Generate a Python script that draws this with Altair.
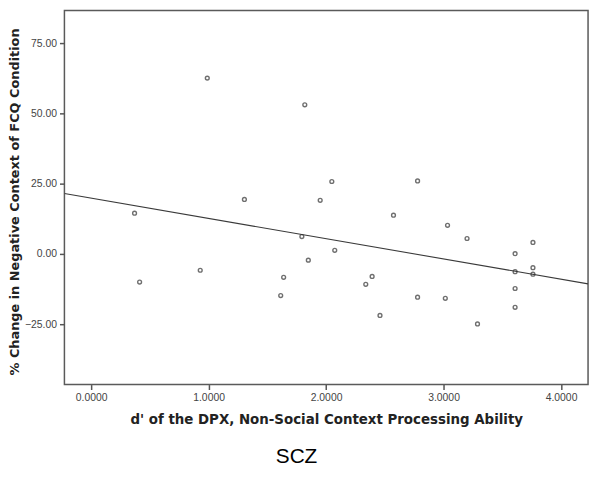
import altair as alt
import pandas as pd

dprime = [0.989, 1.819, 1.305, 1.950, 0.370, 0.413, 0.929, 1.794, 1.849, 1.639,
          1.614, 2.049, 2.779, 2.574, 3.034, 3.200, 3.761, 3.609, 2.074, 3.609,
          3.761, 3.761, 2.392, 2.338, 3.609, 2.779, 3.015, 3.609, 2.459, 3.289]
pct_change = [62.6, 53.1, 19.4, 19.1, 14.5, -10.0, -5.8, 6.2, -2.2, -8.3,
              -14.8, 25.8, 26.0, 13.8, 10.2, 5.5, 4.1, 0.1, 1.3, -6.3,
              -4.9, -7.2, -8.0, -10.8, -12.3, -15.4, -15.8, -19.0, -21.9, -24.9]

x_ticks = [0, 1, 2, 3, 4]
y_ticks = [-25, 0, 25, 50, 75]
x_domain = [-0.227, 4.23]
y_domain = [-46.5, 86.7]

df = pd.DataFrame({"x": dprime, "y": pct_change})

x_enc = alt.X("x:Q", scale=alt.Scale(domain=x_domain, nice=False, zero=False),
              axis=alt.Axis(values=x_ticks, format=".4f",
                            title="d' of the DPX, Non-Social Context Processing Ability"))
y_enc = alt.Y("y:Q", scale=alt.Scale(domain=y_domain, nice=False, zero=False),
              axis=alt.Axis(values=y_ticks, format=".2f",
                            title="% Change in Negative Context of FCQ Condition",
                            titleFontSize=13, titleY=193))

points = alt.Chart(df).mark_point(shape="circle", filled=False, size=15,
                                  stroke="#333333", strokeWidth=1.4).encode(x=x_enc, y=y_enc)

line = alt.Chart(df).transform_regression("x", "y", extent=x_domain).mark_line(
    color="#3a3a3a", strokeWidth=1.1, clip=True).encode(x=x_enc, y=y_enc)

chart = (line + points).properties(
    width=529, height=378,
    autosize=alt.AutoSizeParams(type="none"),
    padding={"left": 57, "top": 0, "right": 5, "bottom": 98},
    title=alt.TitleParams("SCZ", orient="bottom", fontSize=21, font="Liberation Sans",
                          fontWeight="normal", color="#000000", offset=20, anchor="middle",
                          dx=-30),
).configure_view(
    stroke="#5a5a5a", strokeWidth=1.5
).configure_axis(
    grid=False, domain=False,
    tickColor="#555555", tickWidth=1.5, tickSize=5,
    labelFont="Liberation Sans", labelFontSize=10.5, labelColor="#444444",
    labelPadding=3,
    titleFont="DejaVu Sans", titleFontSize=13.5, titleFontWeight="bold", titleColor="#222222",
).configure_axisX(titlePadding=10).configure_axisY(titlePadding=3)

chart.save("out.html", embed_options={"renderer": "svg", "actions": False})
